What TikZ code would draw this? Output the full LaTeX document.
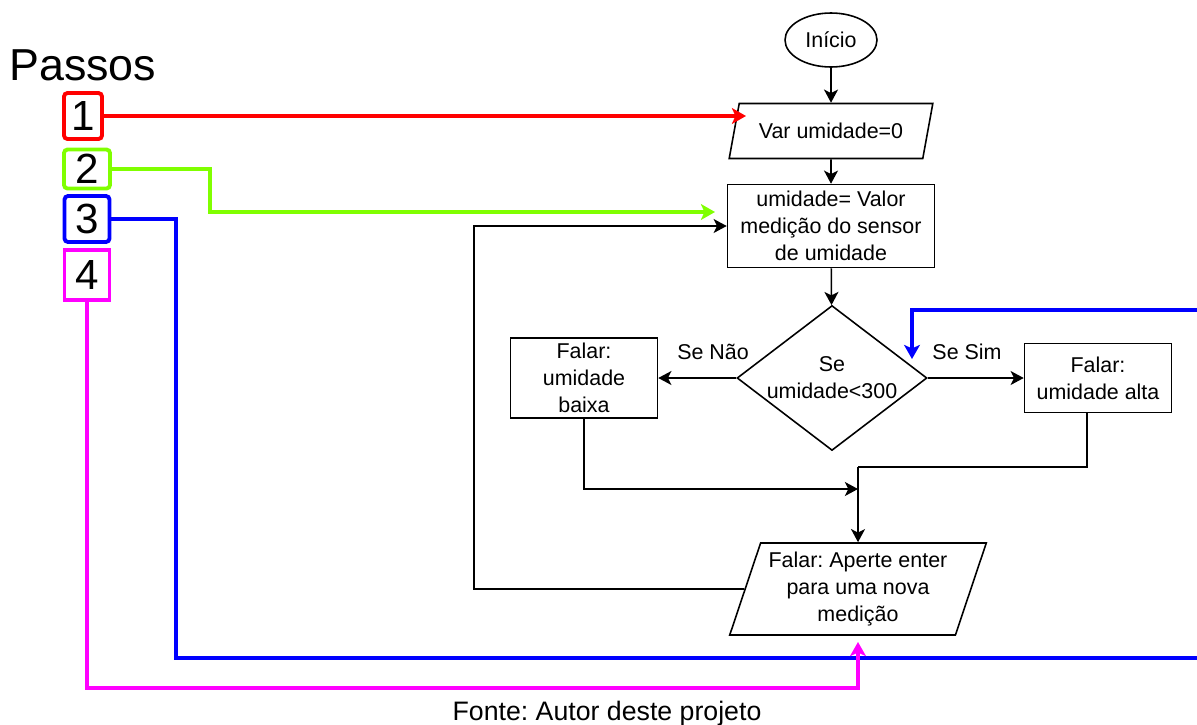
\documentclass[tikz,border=0pt]{standalone}
\usepackage{fontspec}
\setmainfont{Liberation Sans}
\usetikzlibrary{shapes.geometric,arrows.meta}
\frenchspacing

\definecolor{limao}{RGB}{128,255,0}
\definecolor{rosa}{RGB}{255,0,255}

\tikzset{
	fluss/.style={draw, line width=0.9pt, align=center, inner sep=2pt,
		font=\fontsize{12.2}{15.3}\selectfont},
	kasten/.style={fluss, rectangle},
	ebox/.style={fluss, trapezium, trapezium left angle=70, trapezium right angle=110,
		trapezium stretches=true},
	rotulo/.style={font=\fontsize{12.2}{15.3}\selectfont},
	linie/.style={line width=0.9pt},
	pfeil/.style={line width=0.9pt, -{Stealth[length=7.5pt,width=8pt,inset=2pt]}},
	passo/.style={draw, line width=2.2pt, inner sep=0pt, font=\fontsize{24}{24}\selectfont},
	fio/.style={line width=2.2pt},
	fiopfeil/.style={fio, -{Stealth[length=8pt,width=9pt,inset=2pt]}}
}

\begin{document}
\begin{tikzpicture}[x=0.02cm,y=-0.02cm]
	\useasboundingbox (0,0) rectangle (1197,724);

	% zeichne Legende
	\node[anchor=base west, font=\fontsize{25.5}{26}\selectfont] (titulo) at (3,80) {Passos};
	\node[passo, draw=red, rounded corners=2pt, minimum width=0.76cm, minimum height=0.92cm] (p1) at (83,116) {1};
	\node[passo, draw=limao, rounded corners=2pt, minimum width=0.92cm, minimum height=0.78cm] (p2) at (87,169) {2};
	\node[passo, draw=blue, rounded corners=2pt, minimum width=0.9cm, minimum height=0.92cm] (p3) at (87,219) {3};
	\node[passo, draw=rosa, minimum width=0.9cm, minimum height=1cm] (p4) at (87,275) {4};

	% zeichne Ablauf
	\node[fluss, ellipse, inner sep=0pt, minimum width=1.84cm, minimum height=1.08cm] (inicio) at (831,40) {Início};
	\node[ebox, minimum width=4.1cm, minimum height=1.1cm] (var) at (831,131) {Var umidade=0};
	\node[kasten, minimum width=4.14cm, minimum height=1.66cm] (medicao) at (831,226) {umidade= Valor\\medição do sensor\\de umidade};
	\node[fluss, diamond, aspect=1.31, inner sep=0pt, minimum width=3.8cm, minimum height=2.9cm] (decisao) at (832,378) {Se\\umidade<300};
	\node[kasten, minimum width=2.94cm, minimum height=1.6cm] (baixa) at (584,378) {Falar:\\umidade\\baixa};
	\node[kasten, minimum width=2.94cm, minimum height=1.38cm] (alta) at (1098,378) {Falar:\\umidade alta};
	\node[ebox, minimum width=5.14cm, minimum height=1.84cm] (aperte) at (858,589) {Falar: Aperte enter\\para uma nova\\medição};

	\node[rotulo] (senao) at (713,352) {Se Não};
	\node[rotulo] (sesim) at (967,352) {Se Sim};

	\coordinate (knick) at (858,467);
	\coordinate (merge) at (858,489);
	\coordinate (schleife) at (474,589);

	% zeichne Verbindungen
	\draw[pfeil] (inicio) -- (var);
	\draw[pfeil] (var) -- (medicao);
	\draw[pfeil] (medicao) -- (decisao);
	\draw[pfeil] (decisao) -- (baixa);
	\draw[pfeil] (decisao) -- (alta);
	\draw[pfeil] (baixa) |- (merge);
	\draw[linie] ([xshift=-0.22cm]alta.south) |- (knick);
	\draw[pfeil] (knick) -- (aperte);
	\draw[pfeil] (aperte.west) -- (schleife) |- (medicao.west);

	% zeichne farbige Zuordnung
	\coordinate (z1) at (746,116);
	\coordinate (z2) at (715,212);
	\coordinate (rand1) at (1197,658);
	\coordinate (rand2) at (1197,310);
	\coordinate (z3) at (912,359);
	\coordinate (unten) at (858,688);
	\coordinate (z4) at (858,642);

	\draw[fiopfeil, red] (p1.east) -- (z1);
	\draw[fiopfeil, limao] (p2.east) -- ++(98,0) |- (z2);
	\draw[fio, blue] (p3.east) -- ++(65,0) |- (rand1);
	\draw[fiopfeil, blue] (rand2) -| (z3);
	\draw[fiopfeil, rosa] (p4.south) |- (unten) -- (z4);

	\node[anchor=base, font=\fontsize{15.2}{16}\selectfont] (fonte) at (607,720) {Fonte: Autor deste projeto};
\end{tikzpicture}
\end{document}
